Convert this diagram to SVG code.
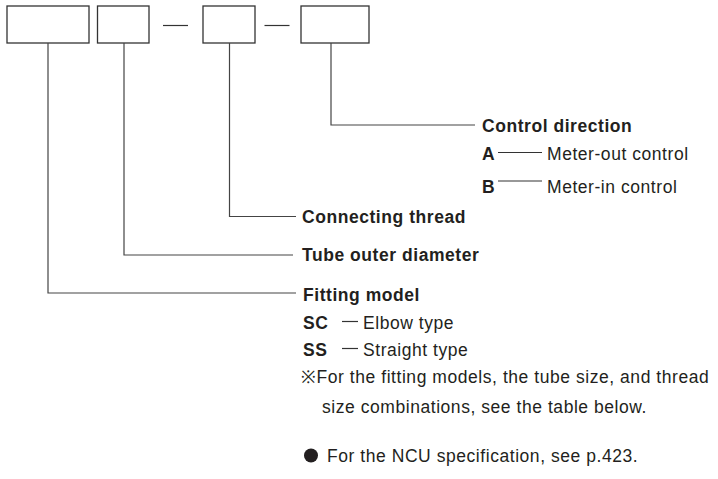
<svg xmlns="http://www.w3.org/2000/svg" width="718" height="479" viewBox="0 0 718 479">
<style>
.box{fill:#fff;stroke:#333;stroke-width:1.3}
.con{fill:none;stroke:#444;stroke-width:1.2}
.dash{stroke:#333;stroke-width:1.2}
text{font-family:"Liberation Sans",Arial,sans-serif;font-size:17.5px;fill:#231f20;letter-spacing:0.55px}
.b{font-weight:bold}
</style>
<rect width="718" height="479" fill="#fff"/>
<g id="box-model"><rect class="box" x="7" y="6" width="82" height="37"/></g>
<g id="box-tube"><rect class="box" x="97.5" y="6" width="51.5" height="37"/></g>
<line class="dash" x1="163" y1="25.5" x2="188" y2="25.5"/>
<g id="box-thread"><rect class="box" x="203" y="6" width="52" height="37"/></g>
<line class="dash" x1="264.5" y1="25.5" x2="289.5" y2="25.5"/>
<g id="box-direction"><rect class="box" x="301" y="6" width="68" height="37"/></g>
<g id="connectors">
<polyline class="con" points="331,43 331,125 475,125"/>
<polyline class="con" points="229.5,43 229.5,216.5 296,216.5"/>
<polyline class="con" points="124,43 124,255 293,255"/>
<polyline class="con" points="48,43 48,293 296,293"/>
</g>
<g id="label-direction">
<text class="b" x="482" y="132">Control direction</text>
<text class="b" x="482" y="160">A</text>
<line class="dash" x1="498" y1="152.5" x2="542" y2="152.5"/>
<text x="547" y="160">Meter-out control</text>
<text class="b" x="482" y="193">B</text>
<line class="dash" x1="498" y1="181" x2="542" y2="181"/>
<text x="547" y="193">Meter-in control</text>
</g>
<g id="label-thread"><text class="b" x="302" y="222.5">Connecting thread</text></g>
<g id="label-tube"><text class="b" x="302" y="261">Tube outer diameter</text></g>
<g id="label-model">
<text class="b" x="303" y="300.5">Fitting model</text>
<text class="b" x="303" y="329">SC</text>
<line class="dash" x1="342" y1="321.5" x2="358" y2="321.5"/>
<text x="363" y="329">Elbow type</text>
<text class="b" x="303" y="356">SS</text>
<line class="dash" x1="342" y1="348.5" x2="358" y2="348.5"/>
<text x="363" y="356">Straight type</text>
<text x="301" y="383">※For the fitting models, the tube size, and thread</text>
<text x="322" y="413">size combinations, see the table below.</text>
</g>
<g id="note">
<circle cx="311" cy="455.5" r="7" fill="#231f20"/>
<text x="327" y="462">For the NCU specification, see p.423.</text>
</g>
</svg>
